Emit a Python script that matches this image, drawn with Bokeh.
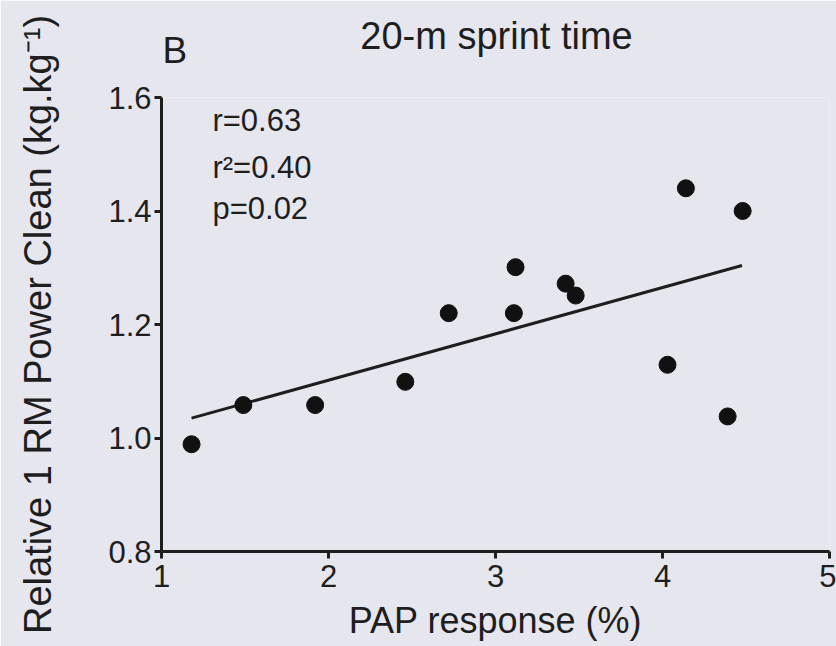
from bokeh.plotting import figure
from bokeh.models import Label, FixedTicker, PrintfTickFormatter, Range1d
from bokeh.embed import file_html
from bokeh.resources import INLINE

# Data
pap_response = [1.18, 1.49, 1.92, 2.46, 2.72, 3.12, 3.11, 3.42, 3.48, 4.03, 4.14, 4.39, 4.48]
rel_power_clean = [0.989, 1.058, 1.058, 1.099, 1.220, 1.301, 1.220, 1.272, 1.251, 1.129, 1.440, 1.038, 1.400]
fit_x = [1.18, 4.476]
fit_y = [1.035, 1.304]
x_ticks = [1, 2, 3, 4, 5]
y_ticks = [0.8, 1.0, 1.2, 1.4, 1.6]
stats = ["r=0.63", "r\u00b2=0.40", "p=0.02"]

BG = "#e6e6ee"
INK = "#1e1e1e"
FONT = "Liberation Sans"

p = figure(width=836, height=646, output_backend="svg", toolbar_location=None,
           x_range=Range1d(1, 5), y_range=Range1d(0.8, 1.6),
           min_border_left=161, min_border_right=7, min_border_top=97, min_border_bottom=95)
p.background_fill_color = BG
p.border_fill_color = BG
p.outline_line_color = None
p.grid.visible = False

for ax in (p.xaxis, p.yaxis):
    ax.axis_line_width = 3
    ax.axis_line_color = INK
    ax.major_tick_line_width = 3
    ax.major_tick_line_color = INK
    ax.major_tick_in = 0
    ax.major_tick_out = 7
    ax.minor_tick_line_color = None
    ax.major_label_text_font = FONT
    ax.major_label_text_font_size = "31px"
    ax.major_label_text_color = INK
    ax.axis_label_text_font = FONT
    ax.axis_label_text_font_style = "normal"
    ax.axis_label_text_color = INK

p.xaxis.ticker = FixedTicker(ticks=x_ticks)
p.yaxis.ticker = FixedTicker(ticks=y_ticks)
p.xaxis.formatter = PrintfTickFormatter(format="%d")
p.yaxis.formatter = PrintfTickFormatter(format="%.1f")
p.xaxis.major_label_standoff = 6
p.yaxis.major_label_standoff = 3
p.xaxis.axis_label = "PAP response (%)"
p.yaxis.axis_label = "Relative 1 RM Power Clean (kg.kg\u207b\u00b9)"
p.xaxis.axis_label_text_font_size = "36px"
p.yaxis.axis_label_text_font_size = "38px"
p.xaxis.axis_label_standoff = 10
p.yaxis.axis_label_standoff = 46

p.line(fit_x, fit_y, line_color=INK, line_width=3)
p.scatter(pap_response, rel_power_clean, size=17, color="#111111")

# title and panel letter sit in the top border panel
p.add_layout(Label(x=3.006, y=62, y_units="screen", text="20-m sprint time", text_align="center",
                   text_baseline="alphabetic", text_font=FONT, text_font_size="38px",
                   text_color=INK), "above")
p.add_layout(Label(x=1.006, y=5, y_units="screen", text="B", text_align="left",
                   text_baseline="alphabetic", text_font=FONT, text_font_size="37px",
                   text_color=INK), "above")
for s, yy in zip(stats, [1.559, 1.477, 1.404]):
    p.add_layout(Label(x=1.305, y=yy, text=s, text_align="left", text_baseline="alphabetic",
                       text_font=FONT, text_font_size="31px", text_color=INK))

open("out.html", "w").write(file_html(p, INLINE))
